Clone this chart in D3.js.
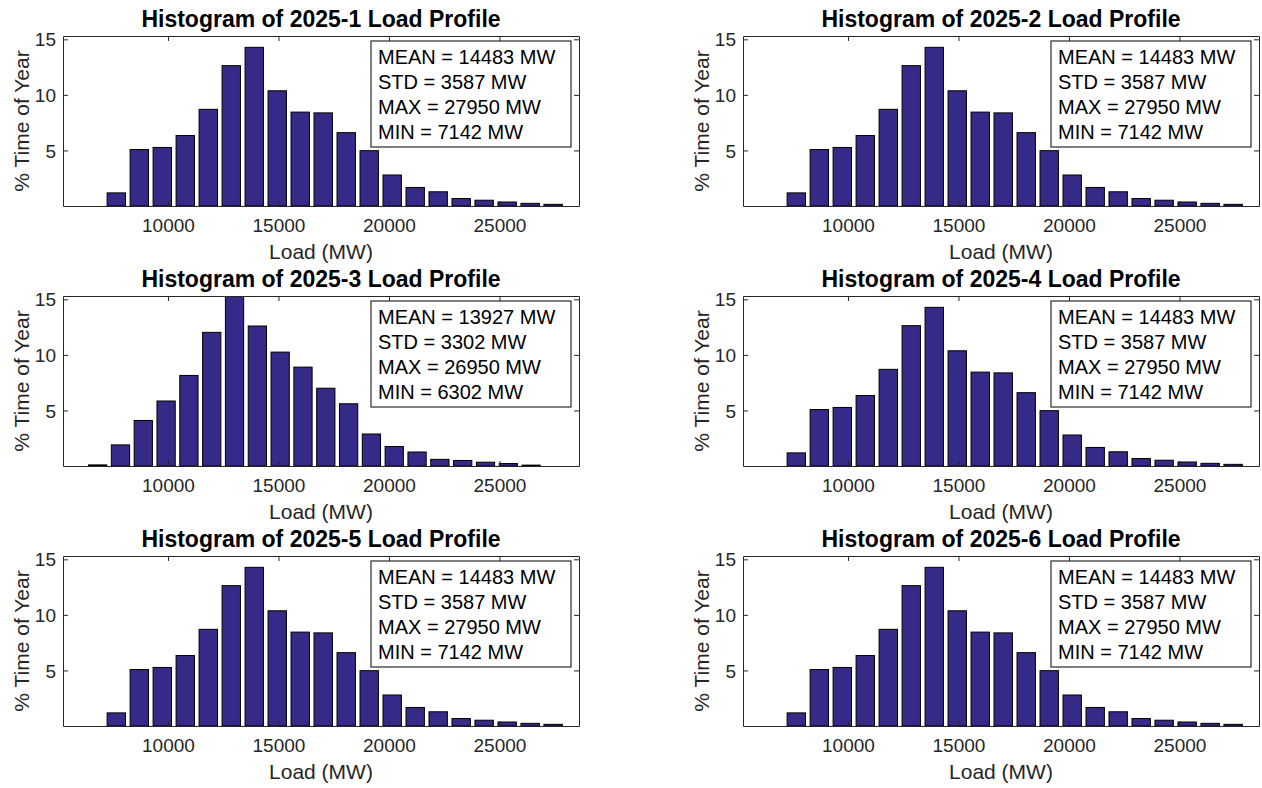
<!DOCTYPE html>
<html>
<head>
<meta charset="utf-8">
<script src="https://cdn.jsdelivr.net/npm/d3@7"></script>
<style>
  html, body { margin: 0; padding: 0; background: #ffffff; }
  svg { display: block; }
  text { font-family: "Liberation Sans", Arial, Helvetica, sans-serif; fill: #262626; }
</style>
</head>
<body>
<svg id="chart" width="1262" height="788"></svg>
<script>
// ---------------- data ----------------
const titles = [
  "Histogram of 2025-1 Load Profile",
  "Histogram of 2025-2 Load Profile",
  "Histogram of 2025-3 Load Profile",
  "Histogram of 2025-4 Load Profile",
  "Histogram of 2025-5 Load Profile",
  "Histogram of 2025-6 Load Profile"
];
const meanMW = [14483, 14483, 13927, 14483, 14483, 14483];
const stdMW  = [3587, 3587, 3302, 3587, 3587, 3587];
const maxMW  = [27950, 27950, 26950, 27950, 27950, 27950];
const minMW  = [7142, 7142, 6302, 7142, 7142, 7142];

// % time of year in each of 20 equal bins between MIN and MAX
const pct2025_1 = [1.18, 5.08, 5.27, 6.34, 8.70, 12.63, 14.28, 10.37, 8.45, 8.38, 6.60, 4.98, 2.79, 1.67, 1.28, 0.67, 0.52, 0.36, 0.24, 0.15];
const pct2025_2 = [1.18, 5.08, 5.27, 6.34, 8.70, 12.63, 14.28, 10.37, 8.45, 8.38, 6.60, 4.98, 2.79, 1.67, 1.28, 0.67, 0.52, 0.36, 0.24, 0.15];
const pct2025_3 = [0.10, 1.90, 4.10, 5.85, 8.15, 12.03, 15.30, 12.60, 10.25, 8.90, 7.00, 5.60, 2.88, 1.75, 1.26, 0.60, 0.50, 0.34, 0.22, 0.08];
const pct2025_4 = [1.18, 5.08, 5.27, 6.34, 8.70, 12.63, 14.28, 10.37, 8.45, 8.38, 6.60, 4.98, 2.79, 1.67, 1.28, 0.67, 0.52, 0.36, 0.24, 0.15];
const pct2025_5 = [1.18, 5.08, 5.27, 6.34, 8.70, 12.63, 14.28, 10.37, 8.45, 8.38, 6.60, 4.98, 2.79, 1.67, 1.28, 0.67, 0.52, 0.36, 0.24, 0.15];
const pct2025_6 = [1.18, 5.08, 5.27, 6.34, 8.70, 12.63, 14.28, 10.37, 8.45, 8.38, 6.60, 4.98, 2.79, 1.67, 1.28, 0.67, 0.52, 0.36, 0.24, 0.15];
const series = [pct2025_1, pct2025_2, pct2025_3, pct2025_4, pct2025_5, pct2025_6];

const xTicks = [10000, 15000, 20000, 25000];
const yTicks = [5, 10, 15];
const xDomain = [5250, 28600];
const yDomain = [0, 15.3];

// ---------------- layout ----------------
const svg = d3.select("#chart");
const axW = 516, axH = 170;
const colX = [63, 743];
const rowY = [36, 296, 556];
const barColor = "#352a87";
const axisColor = "#262626";
const tickLen = 5;

series.forEach((vals, k) => {
  const col = k % 2, row = Math.floor(k / 2);
  const g = svg.append("g").attr("transform", `translate(${colX[col]},${rowY[row]})`);

  const x = d3.scaleLinear().domain(xDomain).range([0, axW]);
  const y = d3.scaleLinear().domain(yDomain).range([axH, 0]);

  const clipId = "clip" + k;
  g.append("clipPath").attr("id", clipId)
    .append("rect").attr("x", 0).attr("y", 0).attr("width", axW).attr("height", axH);

  // bars
  const nb = vals.length;
  const w = (maxMW[k] - minMW[k]) / nb;
  g.append("g").attr("clip-path", `url(#${clipId})`)
    .selectAll("rect").data(vals).join("rect")
    .attr("x", (d, i) => x(minMW[k] + (i + 0.1) * w))
    .attr("width", (d, i) => x(minMW[k] + (i + 0.9) * w) - x(minMW[k] + (i + 0.1) * w))
    .attr("y", d => y(d))
    .attr("height", d => y(0) - y(d))
    .attr("fill", barColor)
    .attr("stroke", "#000")
    .attr("stroke-width", 1);

  // axes (bottom / left with labels; top / right mirrored ticks)
  const xb = g.append("g").attr("transform", `translate(0,${axH})`)
    .call(d3.axisBottom(x).tickValues(xTicks).tickFormat(d3.format("d")).tickSizeInner(-tickLen).tickSizeOuter(0).tickPadding(13));
  const xt = g.append("g")
    .call(d3.axisTop(x).tickValues(xTicks).tickFormat("").tickSizeInner(-tickLen).tickSizeOuter(0));
  const yl = g.append("g")
    .call(d3.axisLeft(y).tickValues(yTicks).tickFormat(d3.format("d")).tickSizeInner(-tickLen).tickSizeOuter(0).tickPadding(7));
  const yr = g.append("g").attr("transform", `translate(${axW},0)`)
    .call(d3.axisRight(y).tickValues(yTicks).tickFormat("").tickSizeInner(-tickLen).tickSizeOuter(0));
  [xb, xt, yl, yr].forEach(a => {
    a.select(".domain").attr("stroke", axisColor).attr("stroke-width", 1);
    a.selectAll(".tick line").attr("stroke", axisColor).attr("stroke-width", 1);
    a.selectAll(".tick text").attr("fill", axisColor)
      .style("font-family", '"Liberation Sans", Arial, sans-serif').style("font-size", "19px");
  });
  yl.selectAll(".tick text").attr("dy", "0.35em");
  xb.selectAll(".tick text").attr("dy", "0.71em");

  // title
  g.append("text").attr("x", axW / 2).attr("y", -9)
    .attr("text-anchor", "middle").style("font-size", "23px").style("font-weight", "bold")
    .style("fill", "#000").text(titles[k]);

  // axis labels
  g.append("text").attr("x", axW / 2).attr("y", axH + 53)
    .attr("text-anchor", "middle").style("font-size", "21px").text("Load (MW)");
  g.append("text").attr("transform", `translate(${-34},${axH / 2}) rotate(-90)`)
    .attr("text-anchor", "middle").style("font-size", "21px").text("% Time of Year");

  // stats box
  const bx = axW - 8 - 200, by = 5;
  g.append("rect").attr("x", bx).attr("y", by).attr("width", 200).attr("height", 106)
    .attr("fill", "#fff").attr("stroke", "#000").attr("stroke-width", 1);
  const lines = [
    `MEAN = ${meanMW[k]} MW`,
    `STD = ${stdMW[k]} MW`,
    `MAX = ${maxMW[k]} MW`,
    `MIN = ${minMW[k]} MW`
  ];
  g.append("g").selectAll("text").data(lines).join("text")
    .attr("x", bx + 7).attr("y", (d, i) => by + 23 + i * 25)
    .style("font-size", "20px").style("fill", "#000").text(d => d);
});
</script>
</body>
</html>
